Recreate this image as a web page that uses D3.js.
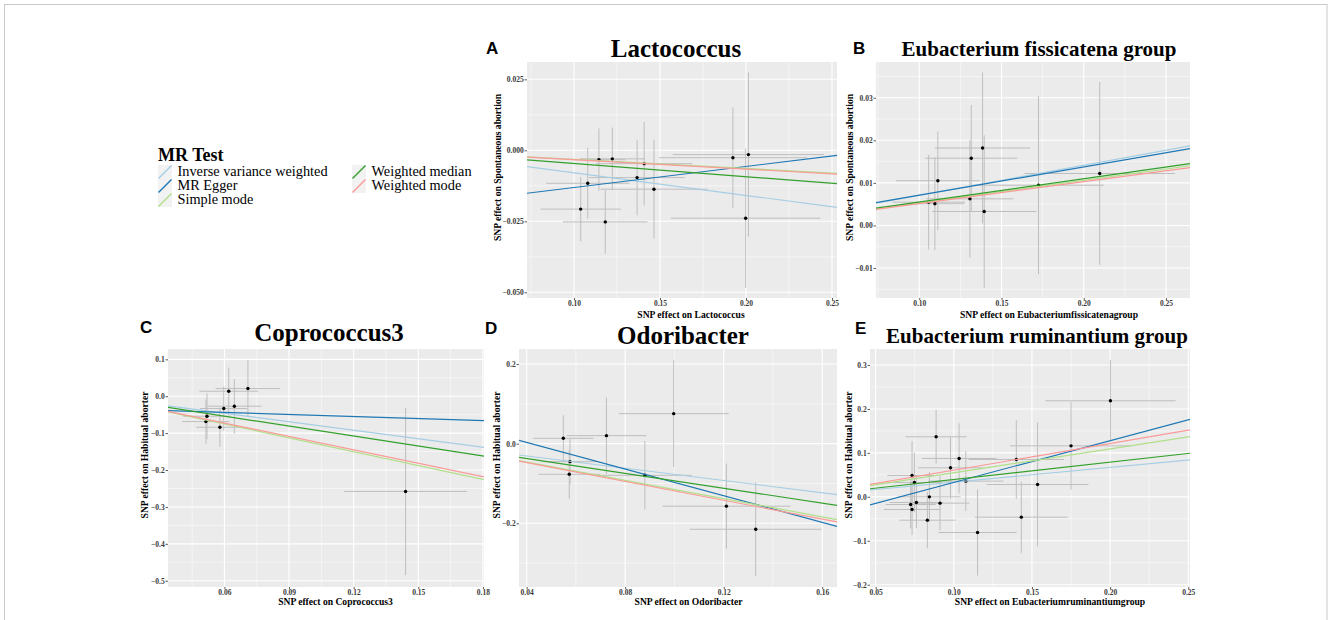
<!DOCTYPE html>
<html>
<head>
<meta charset="utf-8">
<script src="https://cdn.jsdelivr.net/npm/d3@7"></script>
<style>
  body { margin: 0; background: #fff; }
  svg { display: block; }
</style>
</head>
<body>
<div id="chart"></div>
<script>
// MR methods, in legend order
const methods = ['Inverse variance weighted', 'MR Egger', 'Simple mode', 'Weighted median', 'Weighted mode'];
const methodColors = ['#A6CEE3', '#1F78B4', '#B2DF8A', '#33A02C', '#FB9A99'];

// A: Lactococcus -> Spontaneous abortion
const lactoBx = [0.1039, 0.108, 0.1145, 0.1223, 0.1182, 0.1408, 0.1367, 0.1465, 0.1924, 0.2014, 0.1998];
const lactoBy = [-0.0207, -0.0116, -0.0033, -0.003, -0.0252, -0.0047, -0.0096, -0.0137, -0.0026, -0.0015, -0.0239];
const lactoSeX = [0.0233, 0.0242, 0.0154, 0.019, 0.0246, 0.028, 0.0278, 0.031, 0.043, 0.044, 0.0435];
const lactoSeY = [0.0113, 0.0125, 0.011, 0.011, 0.0113, 0.0147, 0.0133, 0.0174, 0.0177, 0.0289, 0.0245];
const lactoSlope = [-0.0794, 0.0741, -0.032, -0.0465, -0.0331];
const lactoIntercept = [0, -0.0205, 0, 0, 0];
const lactoXTicks = [0.10, 0.15, 0.20, 0.25];
const lactoYTicks = [0.025, 0, -0.025, -0.05];

// B: Eubacterium fissicatena group -> Spontaneous abortion
const fissiBx = [0.1057, 0.1095, 0.1113, 0.1316, 0.1308, 0.1385, 0.1395, 0.1725, 0.2097];
const fissiBy = [0.00547, 0.0051, 0.0105, 0.0158, 0.00625, 0.0182, 0.00328, 0.00945, 0.0122];
const fissiSeX = [0.022, 0.018, 0.0255, 0.028, 0.0265, 0.029, 0.0317, 0.0397, 0.0458];
const fissiSeY = [0.0111, 0.0109, 0.0116, 0.0125, 0.0138, 0.0177, 0.0179, 0.0209, 0.0215];
const fissiSlope = [0.0707, 0.0666, 0.053, 0.0549, 0.0514];
const fissiIntercept = [0, 0.00044, 0, 0, 0];
const fissiXTicks = [0.10, 0.15, 0.20, 0.25];
const fissiYTicks = [0.03, 0.02, 0.01, 0, -0.01];

// C: Coprococcus3 -> Habitual aborter
const coproBx = [0.0519, 0.0514, 0.0579, 0.0597, 0.062, 0.0646, 0.0709, 0.1441];
const coproBy = [-0.0542, -0.0687, -0.084, -0.0334, 0.0135, -0.0271, 0.0208, -0.258];
const coproSeX = [0.011, 0.011, 0.011, 0.011, 0.0136, 0.0126, 0.015, 0.0285];
const coproSeY = [0.062, 0.06, 0.053, 0.06, 0.064, 0.074, 0.077, 0.227];
const coproSlope = [-0.769, -0.186, -1.252, -0.90, -1.211];
const coproIntercept = [0, -0.0325, 0, 0, 0];
const coproXTicks = [0.06, 0.09, 0.12, 0.15, 0.18];
const coproYTicks = [0.1, 0, -0.1, -0.2, -0.3, -0.4, -0.5];

// D: Odoribacter -> Habitual aborter
const odoriBx = [0.0549, 0.0576, 0.0573, 0.0724, 0.088, 0.0997, 0.1211, 0.133];
const odoriBy = [0.0134, -0.0452, -0.077, 0.0201, -0.0795, 0.0753, -0.157, -0.215];
const odoriSeX = [0.0122, 0.011, 0.0125, 0.0162, 0.019, 0.0223, 0.026, 0.0268];
const odoriSeY = [0.058, 0.057, 0.0615, 0.096, 0.086, 0.134, 0.107, 0.118];
const odoriSlope = [-0.771, -1.674, -1.149, -0.9325, -1.185];
const odoriIntercept = [0, 0.0703, 0, 0, 0];
const odoriXTicks = [0.04, 0.08, 0.12, 0.16];
const odoriYTicks = [0.2, 0, -0.2];

// E: Eubacterium ruminantium group -> Habitual aborter
const rumiBx = [0.2002, 0.175, 0.14, 0.1536, 0.1432, 0.1152, 0.0887, 0.1034, 0.0979, 0.1077, 0.0844, 0.0912, 0.0831, 0.0733, 0.0748, 0.0761, 0.0724, 0.0733];
const rumiBy = [0.2185, 0.116, 0.085, 0.028, -0.0463, -0.0812, 0.1366, 0.0873, 0.066, 0.0357, 0.0, -0.0144, -0.0531, 0.0486, 0.0326, -0.0129, -0.0175, -0.0288];
const rumiSeX = [0.0417, 0.039, 0.0305, 0.0326, 0.0296, 0.025, 0.0195, 0.0238, 0.021, 0.024, 0.02, 0.0187, 0.018, 0.0158, 0.0176, 0.017, 0.016, 0.018];
const rumiSeY = [0.093, 0.1, 0.089, 0.141, 0.081, 0.098, 0.0615, 0.08, 0.07, 0.068, 0.057, 0.062, 0.064, 0.078, 0.068, 0.058, 0.054, 0.058];
const rumiSlope = [0.335, 0.951, 0.546, 0.395, 0.606];
const rumiIntercept = [0, -0.0623, 0, 0, 0];
const rumiXTicks = [0.05, 0.10, 0.15, 0.20, 0.25];
const rumiYTicks = [0.3, 0.2, 0.1, 0, -0.1, -0.2];

const SERIF = '"Liberation Serif", "Times New Roman", serif';
const SANS = '"Liberation Sans", Arial, sans-serif';

// panel layout (pixel boxes + visible axis ranges)
const panels = [
  { letter: 'A', title: 'Lactococcus', xlab: 'SNP effect on Lactococcus', ylab: 'SNP effect on Spontaneous abortion',
    bx: lactoBx, by: lactoBy, sx: lactoSeX, sy: lactoSeY, slope: lactoSlope, icpt: lactoIntercept,
    xt: lactoXTicks, yt: lactoYTicks, xf: '.2f', yf: '.3f',
    box: [527, 62, 837, 298], xd: [0.0727, 0.2529], yd: [-0.052, 0.0311], titleSize: 25,
    letterPos: [486, 54], titlePos: [676, 57], xlabPos: [691, 317.5], ylabPos: [500.5, 167.5] },
  { letter: 'B', title: 'Eubacterium fissicatena group', xlab: 'SNP effect on Eubacteriumfissicatenagroup', ylab: 'SNP effect on Spontaneous abortion',
    bx: fissiBx, by: fissiBy, sx: fissiSeX, sy: fissiSeY, slope: fissiSlope, icpt: fissiIntercept,
    xt: fissiXTicks, yt: fissiYTicks, xf: '.2f', yf: '.2f',
    box: [876, 62, 1190, 298], xd: [0.0737, 0.2646], yd: [-0.01705, 0.0384], titleSize: 21,
    letterPos: [853, 54], titlePos: [1039, 56], xlabPos: [1049, 317.5], ylabPos: [853, 167.5] },
  { letter: 'C', title: 'Coprococcus3', xlab: 'SNP effect on Coprococcus3', ylab: 'SNP effect on Habitual aborter',
    bx: coproBx, by: coproBy, sx: coproSeX, sy: coproSeY, slope: coproSlope, icpt: coproIntercept,
    xt: coproXTicks, yt: coproYTicks, xf: '.2f', yf: '.1f',
    box: [168, 349, 484, 587], xd: [0.0338, 0.1805], yd: [-0.517, 0.128], titleSize: 25,
    letterPos: [140, 333], titlePos: [329, 341], xlabPos: [335.5, 605], ylabPos: [148, 455] },
  { letter: 'D', title: 'Odoribacter', xlab: 'SNP effect on Odoribacter', ylab: 'SNP effect on Habitual aborter',
    bx: odoriBx, by: odoriBy, sx: odoriSeX, sy: odoriSeY, slope: odoriSlope, icpt: odoriIntercept,
    xt: odoriXTicks, yt: odoriYTicks, xf: '.2f', yf: '.1f',
    box: [519, 349, 837, 587], xd: [0.0369, 0.166], yd: [-0.36, 0.2377], titleSize: 25,
    letterPos: [485, 334], titlePos: [683, 344], xlabPos: [688.5, 605], ylabPos: [500, 455] },
  { letter: 'E', title: 'Eubacterium ruminantium group', xlab: 'SNP effect on Eubacteriumruminantiumgroup', ylab: 'SNP effect on Habitual aborter',
    bx: rumiBx, by: rumiBy, sx: rumiSeX, sy: rumiSeY, slope: rumiSlope, icpt: rumiIntercept,
    xt: rumiXTicks, yt: rumiYTicks, xf: '.2f', yf: '.1f',
    box: [870, 349, 1190, 587], xd: [0.0464, 0.2511], yd: [-0.2052, 0.3364], titleSize: 21,
    letterPos: [855, 334], titlePos: [1037, 343], xlabPos: [1050, 605], ylabPos: [852, 455] }
];

const W = 1328, H = 620;
const svg = d3.select('#chart').append('svg')
  .attr('width', W).attr('height', H)
  .attr('viewBox', `0 0 ${W} ${H}`);

// outer frame
svg.append('rect')
  .attr('x', 4.5).attr('y', 4.5)
  .attr('width', 1322.5).attr('height', 640)
  .attr('fill', 'none').attr('stroke', '#c8c8c8').attr('stroke-width', 1);

// minor grid values: midpoints between majors, extended past the ends
function minorTicks(ticks, domain) {
  const s = [...ticks].sort((a, b) => a - b);
  const step = s[1] - s[0];
  const out = [];
  for (let v = s[0] - step / 2; v <= domain[1] + 1e-9; v += step) {
    if (v >= domain[0] - 1e-9) out.push(v);
  }
  return out;
}

panels.forEach((p, pi) => {
  const [x0, y0, x1, y1] = p.box;
  const x = d3.scaleLinear().domain(p.xd).range([x0, x1]);
  const y = d3.scaleLinear().domain(p.yd).range([y1, y0]);
  const g = svg.append('g').attr('class', 'panel');

  const clipId = 'clip' + pi;
  svg.append('clipPath').attr('id', clipId)
    .append('rect').attr('x', x0).attr('y', y0).attr('width', x1 - x0).attr('height', y1 - y0);

  g.append('rect')
    .attr('x', x0).attr('y', y0).attr('width', x1 - x0).attr('height', y1 - y0)
    .attr('fill', '#EBEBEB');

  const grid = g.append('g').attr('clip-path', `url(#${clipId})`);
  // minor grid
  grid.selectAll('line.mx').data(minorTicks(p.xt, p.xd)).join('line')
    .attr('x1', d => x(d)).attr('x2', d => x(d)).attr('y1', y0).attr('y2', y1)
    .attr('stroke', '#fff').attr('stroke-width', 0.5);
  grid.selectAll('line.my').data(minorTicks(p.yt, p.yd)).join('line')
    .attr('x1', x0).attr('x2', x1).attr('y1', d => y(d)).attr('y2', d => y(d))
    .attr('stroke', '#fff').attr('stroke-width', 0.5);
  // major grid
  grid.selectAll('line.gx').data(p.xt).join('line')
    .attr('x1', d => x(d)).attr('x2', d => x(d)).attr('y1', y0).attr('y2', y1)
    .attr('stroke', '#fff').attr('stroke-width', 1.1);
  grid.selectAll('line.gy').data(p.yt).join('line')
    .attr('x1', x0).attr('x2', x1).attr('y1', d => y(d)).attr('y2', d => y(d))
    .attr('stroke', '#fff').attr('stroke-width', 1.1);

  const pts = p.bx.map((v, i) => ({ bx: v, by: p.by[i], sx: p.sx[i], sy: p.sy[i] }));
  const marks = g.append('g').attr('clip-path', `url(#${clipId})`);

  // vertical error bars
  marks.selectAll('line.ev').data(pts).join('line')
    .attr('x1', d => x(d.bx)).attr('x2', d => x(d.bx))
    .attr('y1', d => y(d.by - d.sy)).attr('y2', d => y(d.by + d.sy))
    .attr('stroke', '#BEBEBE').attr('stroke-width', 1);
  // horizontal error bars
  marks.selectAll('line.eh').data(pts).join('line')
    .attr('x1', d => x(d.bx - d.sx)).attr('x2', d => x(d.bx + d.sx))
    .attr('y1', d => y(d.by)).attr('y2', d => y(d.by))
    .attr('stroke', '#BEBEBE').attr('stroke-width', 1);
  // points
  marks.selectAll('circle').data(pts).join('circle')
    .attr('cx', d => x(d.bx)).attr('cy', d => y(d.by)).attr('r', 1.7)
    .attr('fill', '#000');

  // method lines
  const lines = methods.map((m, i) => ({ m, slope: p.slope[i], icpt: p.icpt[i], color: methodColors[i] }));
  marks.selectAll('line.fit').data(lines).join('line')
    .attr('x1', x(p.xd[0])).attr('x2', x(p.xd[1]))
    .attr('y1', d => y(d.icpt + d.slope * p.xd[0]))
    .attr('y2', d => y(d.icpt + d.slope * p.xd[1]))
    .attr('stroke', d => d.color).attr('stroke-width', 1.2);

  // axes
  const xAxis = g.append('g').attr('transform', `translate(0,${y1})`)
    .call(d3.axisBottom(x).tickValues(p.xt).tickFormat(d3.format(p.xf)).tickSize(2).tickPadding(1));
  const yAxis = g.append('g').attr('transform', `translate(${x0},0)`)
    .call(d3.axisLeft(y).tickValues(p.yt).tickFormat(d3.format(p.yf)).tickSize(2.5).tickPadding(0.8));
  [xAxis, yAxis].forEach(a => {
    a.select('.domain').remove();
    a.selectAll('line').attr('stroke', '#333').attr('stroke-width', 0.8);
    a.selectAll('text')
      .attr('font-family', SERIF).attr('font-size', 7.5).attr('font-weight', 'bold')
      .attr('fill', '#3a3a3a');
  });

  // titles and labels
  svg.append('text')
    .attr('x', p.letterPos[0]).attr('y', p.letterPos[1])
    .attr('font-family', SANS).attr('font-weight', 'bold').attr('font-size', 17)
    .text(p.letter);
  svg.append('text')
    .attr('x', p.titlePos[0]).attr('y', p.titlePos[1]).attr('text-anchor', 'middle')
    .attr('font-family', SERIF).attr('font-weight', 'bold').attr('font-size', p.titleSize)
    .text(p.title);
  svg.append('text')
    .attr('x', p.xlabPos[0]).attr('y', p.xlabPos[1]).attr('text-anchor', 'middle')
    .attr('font-family', SERIF).attr('font-weight', 'bold').attr('font-size', 9.6)
    .text(p.xlab);
  svg.append('text')
    .attr('transform', `translate(${p.ylabPos[0]},${p.ylabPos[1]}) rotate(-90)`)
    .attr('text-anchor', 'middle')
    .attr('font-family', SERIF).attr('font-weight', 'bold').attr('font-size', 9.6)
    .text(p.ylab);
});

// legend
const legend = svg.append('g').attr('class', 'legend');
legend.append('text')
  .attr('x', 158).attr('y', 160.5)
  .attr('font-family', SERIF).attr('font-weight', 'bold').attr('font-size', 18)
  .text('MR Test');

const legendCols = [158, 352];
const items = methods.map((m, i) => ({ m, color: methodColors[i], col: i < 3 ? 0 : 1, row: i < 3 ? i : i - 3 }));
const keyW = 14, keyH = 14, keyTop = 165;
const item = legend.selectAll('g.item').data(items).join('g')
  .attr('class', 'item')
  .attr('transform', d => `translate(${legendCols[d.col]},${keyTop + d.row * keyH})`);
item.append('rect')
  .attr('width', keyW).attr('height', keyH)
  .attr('fill', '#F2F2F2');
item.append('line')
  .attr('x1', 0.5).attr('y1', keyH - 0.5).attr('x2', keyW - 0.5).attr('y2', 0.5)
  .attr('stroke', d => d.color).attr('stroke-width', 1.4);
item.append('text')
  .attr('x', keyW + 5.5).attr('y', 11)
  .attr('font-family', SERIF).attr('font-size', 14.3)
  .text(d => d.m);
</script>
</body>
</html>
